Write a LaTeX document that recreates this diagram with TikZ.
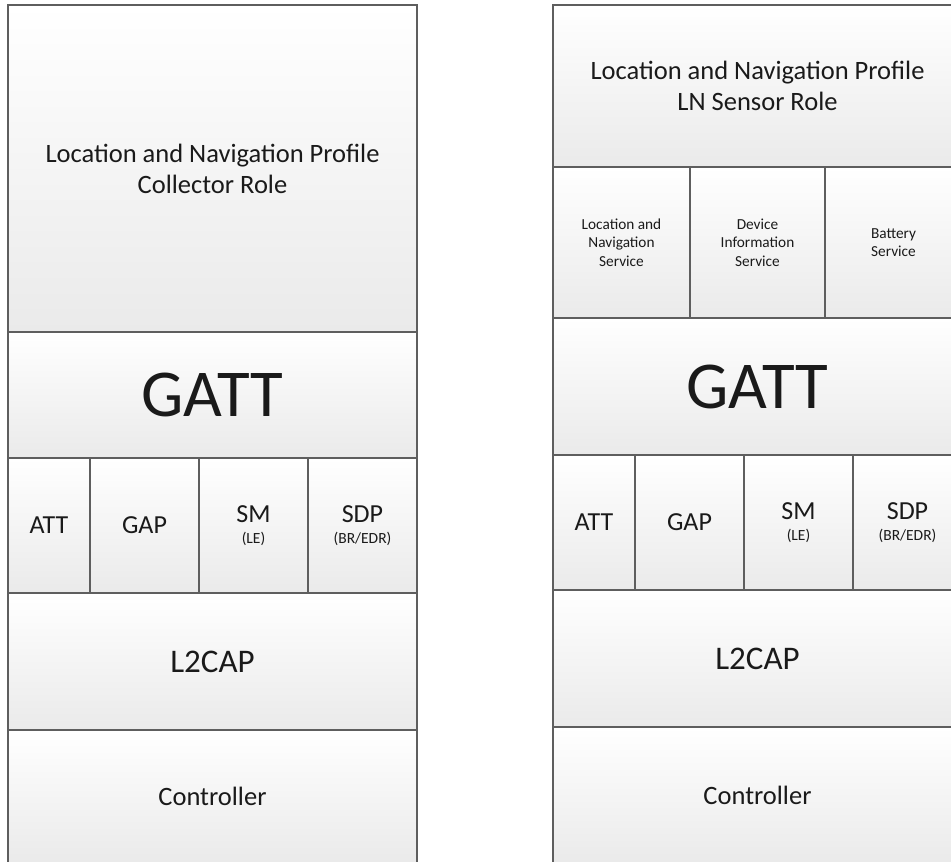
\documentclass[tikz,border=0pt]{standalone}
\usepackage{fontspec}
\setmainfont{Carlito}
\definecolor{edgegray}{HTML}{5E5E5E}
\definecolor{shadegray}{HTML}{EAEAEA}
\definecolor{inkgray}{HTML}{1A1A1A}

\begin{document}
\begin{tikzpicture}[x=1pt, y=-1pt,
        layer/.style={draw=edgegray, line width=1.4pt, top color=white, bottom color=shadegray,
                text=inkgray, align=center, inner sep=0pt, outer sep=0pt},
        rolefont/.style={font=\fontsize{26.5}{31}\selectfont},
        gattfont/.style={font=\fontsize{67}{70}\selectfont},
        protofont/.style={font=\fontsize{26}{21}\selectfont},
        svcfont/.style={font=\fontsize{15.3}{18.5}\selectfont}]
        \useasboundingbox (0,0) rectangle (951,862);
        \clip (0,0) rectangle (951,862);
        % collector stack
        \node (cprof) [layer, rolefont, minimum width=409pt, minimum height=327pt] at (212.5, 168.5) {Location and Navigation Profile\\Collector Role};
        \node (cgatt) [layer, gattfont, minimum width=409pt, minimum height=126pt] at (212.5, 395) {GATT};
        \node (catt) [layer, protofont, minimum width=82pt, minimum height=135pt] at (49, 525.5) {ATT};
        \node (cgap) [layer, protofont, minimum width=109pt, minimum height=135pt] at (144.5, 525.5) {GAP};
        \node (csm) [layer, protofont, minimum width=109pt, minimum height=135pt] at (253.5, 525.5) {SM\\{\fontsize{15.5}{21}\selectfont (LE)}};
        \node (csdp) [layer, protofont, minimum width=109pt, minimum height=135pt] at (362.5, 525.5) {SDP\\{\fontsize{15.5}{21}\selectfont (BR/EDR)}};
        \node (cl2cap) [layer, font=\fontsize{33}{36}\selectfont, minimum width=409pt, minimum height=137pt] at (212.5, 661.5) {L2CAP};
        \node (cctrl) [layer, rolefont, minimum width=409pt, minimum height=133pt] at (212.5, 796.5) {Controller};
        % sensor stack
        \node (sprof) [layer, rolefont, minimum width=409pt, minimum height=162pt] at (757.5, 86) {Location and Navigation Profile\\LN Sensor Role};
        \node (slns) [layer, svcfont, minimum width=137pt, minimum height=151pt] at (621.5, 242.5) {Location and\\Navigation\\Service};
        \node (sdis) [layer, svcfont, minimum width=135pt, minimum height=151pt] at (757.5, 242.5) {Device\\Information\\Service};
        \node (sbas) [layer, svcfont, minimum width=137pt, minimum height=151pt] at (893.5, 242.5) {Battery\\Service};
        \node (sgatt) [layer, gattfont, minimum width=409pt, minimum height=137pt] at (757.5, 386.5) {GATT};
        \node (satt) [layer, protofont, minimum width=82pt, minimum height=135pt] at (594, 522.5) {ATT};
        \node (sgap) [layer, protofont, minimum width=109pt, minimum height=135pt] at (689.5, 522.5) {GAP};
        \node (ssm) [layer, protofont, minimum width=109pt, minimum height=135pt] at (798.5, 522.5) {SM\\{\fontsize{15.5}{21}\selectfont (LE)}};
        \node (ssdp) [layer, protofont, minimum width=109pt, minimum height=135pt] at (907.5, 522.5) {SDP\\{\fontsize{15.5}{21}\selectfont (BR/EDR)}};
        \node (sl2cap) [layer, font=\fontsize{33}{36}\selectfont, minimum width=409pt, minimum height=137pt] at (757.5, 658.5) {L2CAP};
        \node (sctrl) [layer, rolefont, minimum width=409pt, minimum height=136pt] at (757.5, 795) {Controller};
\end{tikzpicture}
\end{document}
